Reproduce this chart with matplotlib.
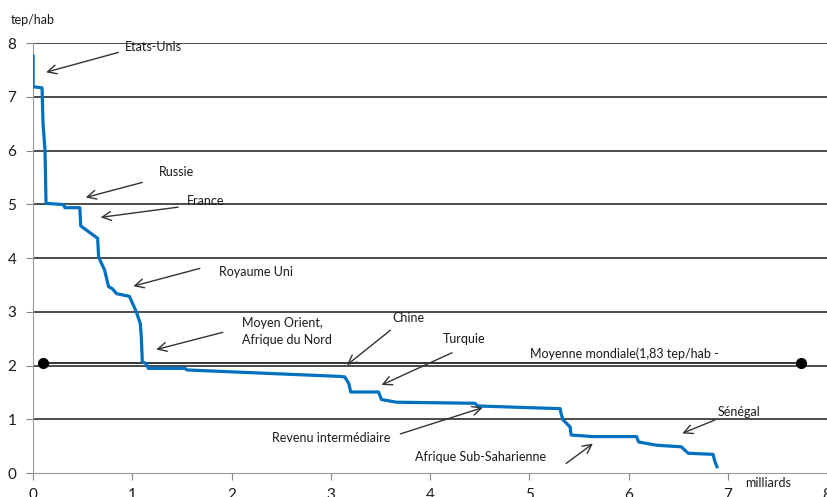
import matplotlib.pyplot as plt
import numpy as np

plt.rcParams['font.family'] = ['Lato', 'DejaVu Sans']

# Cumulative population (milliards) and energy consumption (tep/hab)
pop = [0.0, 0.0, 0.09, 0.10, 0.12, 0.13, 0.29, 0.31, 0.32, 0.47, 0.48, 0.65, 0.66,
       0.72, 0.76, 0.80, 0.84, 0.97, 1.04, 1.08, 1.09, 1.10, 1.14, 1.16, 1.53,
       1.55, 3.09, 3.14, 3.18, 3.20, 3.48, 3.51, 3.66, 4.45, 4.48, 5.31, 5.32,
       5.34, 5.41, 5.42, 5.64, 6.08, 6.10, 6.28, 6.53, 6.60, 6.85, 6.87, 6.89]
tep = [7.76, 7.19, 7.17, 6.5, 6.0, 5.02, 5.0, 4.99, 4.94, 4.94, 4.6, 4.37, 4.02,
       3.78, 3.47, 3.43, 3.34, 3.29, 3.0, 2.78, 2.54, 2.07, 2.04, 1.95, 1.95,
       1.92, 1.80, 1.79, 1.67, 1.51, 1.51, 1.37, 1.32, 1.30, 1.25, 1.20, 1.10,
       0.99, 0.86, 0.71, 0.68, 0.68, 0.58, 0.52, 0.49, 0.37, 0.35, 0.21, 0.12]

# World average line (drawn between two end markers)
moy_x = [0.1, 7.74]
moy_y = [2.05, 2.05]

# Annotations: label, arrow head, arrow tail, text position (data coords)
labels = ['Etats-Unis', 'Russie', 'France', 'Royaume Uni',
          'Moyen Orient,\nAfrique du Nord', 'Chine', 'Turquie',
          'Revenu intermédiaire', 'Afrique Sub-Saharienne', 'Sénégal']
head_x = [0.13, 0.53, 0.68, 1.01, 1.24, 3.16, 3.51, 4.53, 5.64, 6.54]
head_y = [7.46, 5.13, 4.76, 3.48, 2.30, 2.01, 1.64, 1.22, 0.55, 0.74]
tail_x = [0.86, 1.10, 1.46, 1.68, 1.91, 3.60, 4.22, 3.70, 5.37, 6.87]
tail_y = [7.83, 5.41, 4.95, 3.81, 2.62, 2.66, 2.24, 0.73, 0.18, 0.99]
text_x = [1.21, 1.44, 1.74, 2.25, 2.10, 3.78, 4.34, 3.00, 4.51, 7.11]
text_y = [7.93, 5.60, 5.06, 3.74, 2.64, 2.88, 2.49, 0.65, 0.30, 1.13]
text_ha = ['center'] * 4 + ['left'] + ['center'] * 5

fig = plt.figure(figsize=(8.28, 4.97), dpi=100)
ax = fig.add_axes([0.04, 0.048, 0.959, 0.865])

# Gridlines at every unit
for yv in range(1, 9):
    ax.axhline(yv, color='#1a1a1a', lw=1.1, zorder=1)

ax.plot(pop, tep, color='#0070C0', lw=2.3, zorder=3)
ax.plot(moy_x, moy_y, color='black', lw=1.1, marker='o', markersize=7, zorder=2)

for lab, hx, hy, ax_, ay_, tx, ty, ha in zip(labels, head_x, head_y, tail_x, tail_y,
                                             text_x, text_y, text_ha):
    ax.annotate('', xy=(hx, hy), xytext=(ax_, ay_),
                arrowprops=dict(arrowstyle='->', color='#333333', lw=1.0,
                                mutation_scale=16, shrinkA=0, shrinkB=0))
    ax.text(tx, ty, lab, fontsize=9, ha=ha, va='center', color='#1a1a1a',
            linespacing=1.55)

ax.text(5.96, 2.23, 'Moyenne mondiale(1,83 tep/hab -', fontsize=9,
        ha='center', va='center', color='#1a1a1a')

ax.set_xlim(0, 8)
ax.set_ylim(0, 8)
ax.set_xticks(range(0, 9))
ax.set_yticks(range(0, 9))
ax.tick_params(axis='both', labelsize=11, color='#888888', length=5,
               labelcolor='#1a1a1a')
ax.tick_params(axis='x', pad=6)
ax.tick_params(axis='y', pad=7)
for s in ['top', 'right']:
    ax.spines[s].set_visible(False)
ax.spines['left'].set_color('#999999')
ax.spines['bottom'].set_color('#999999')

fig.text(0.013, 0.96, 'tep/hab', fontsize=9, va='center', color='#1a1a1a')
fig.text(0.9275, 0.028, 'milliards', fontsize=9, ha='center', va='center',
         color='#1a1a1a')

fig.savefig('out.png', dpi=100)
